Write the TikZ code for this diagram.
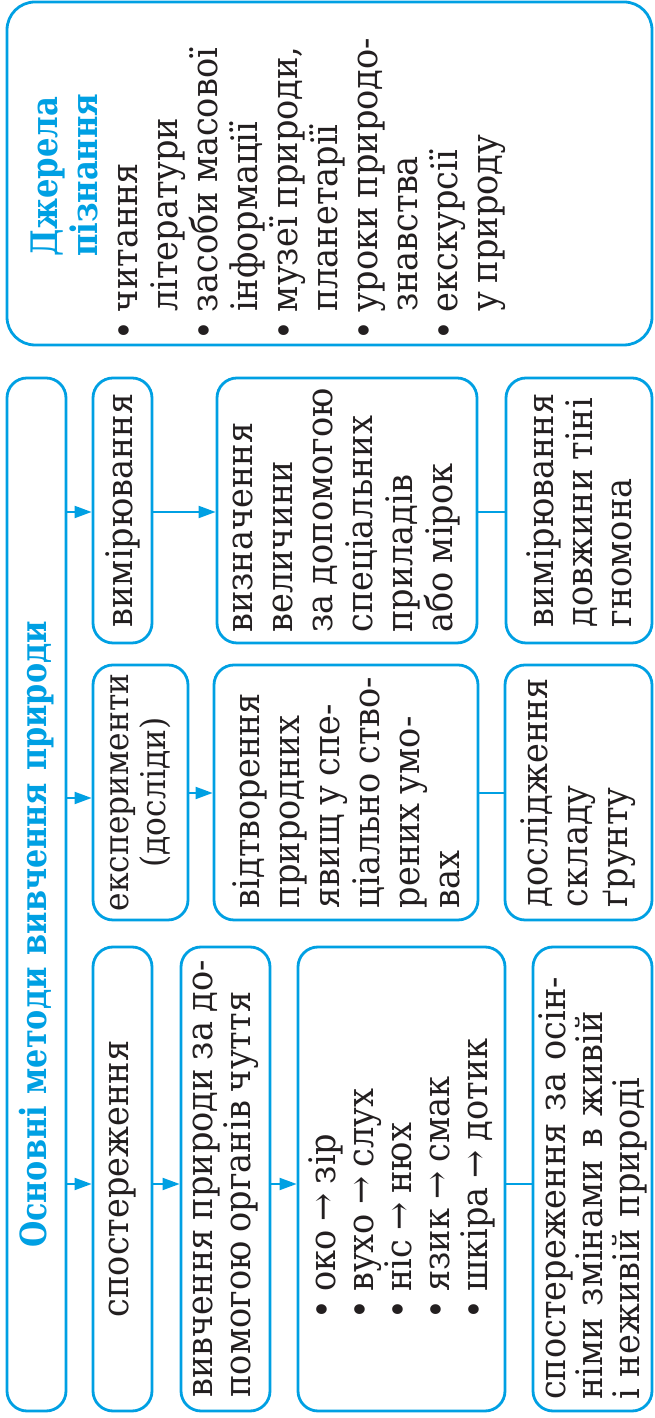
\documentclass[tikz,border=0pt]{standalone}
\usepackage{fontspec}
\setmainfont{DejaVu Serif}[FakeStretch=0.92, WordSpace=0.85]
\newfontfamily\titlefont{DejaVu Serif}[FakeStretch=0.84]
\usetikzlibrary{arrows.meta,calc}
\definecolor{cy}{RGB}{0,160,227}
\definecolor{ink}{RGB}{35,31,32}
\newcommand\bodyfont[1]{\fontsize{36.5}{#1}\selectfont}
\newcommand\srcitem[2]{\hspace*{4pt}\makebox[29pt][l]{\textbullet}#1\\\hspace*{33pt}#2}
\newcommand\senseitem[2]{\makebox[28pt][l]{\textbullet}#1 → #2}
\tikzset{
  box/.style={draw=cy, line width=2.8pt, rounded corners=20pt, rotate=90,
    inner xsep=0pt, inner ysep=0pt, text=ink, font=\bodyfont{39}},
  boxl/.style={box, align=left},
  boxc/.style={box, align=center},
  conn/.style={draw=cy, line width=2pt},
  arr/.style={conn, -{Triangle[length=17pt,width=12pt]}},
}
\begin{document}
\begin{tikzpicture}[x=1pt,y=1pt]
\useasboundingbox (0,0) rectangle (654,1418);
\fill[white] (0,0) rectangle (654,1418);

% title column
\node[boxl, minimum width=1033pt, minimum height=59pt, text width=1033pt,
      font=\titlefont\fontsize{36}{36}\selectfont\bfseries, text=cy] (title) at (36.5,523.5)
  {\hspace*{163pt}Основні методи вивчення природи};

% first level
\node[boxl, minimum width=265pt, minimum height=59pt] (vym) at (122.5,907.5) {вимірювання};
\node[boxc, minimum width=255pt, minimum height=95pt, font=\fontsize{34}{37}\selectfont] (eksp) at (140.5,625.5) {експерименти\\(досліди)};
\node[boxl, minimum width=464pt, minimum height=59pt] (spost) at (122.5,239) {спостереження};

% second level
\node[boxl, minimum width=265pt, minimum height=260pt, font=\bodyfont{40}] (vyzn) at (347,907.5)
  {визначення\\величини\\за допомогою\\спеціальних\\приладів\\або мірок};
\node[boxl, minimum width=255pt, minimum height=264pt, font=\bodyfont{40}] (vidt) at (346,625.5)
  {відтворення\\природних\\явищ у спе-\\ціально ство-\\рених умо-\\вах};
\node[boxl, minimum width=464pt, minimum height=89pt, font=\bodyfont{38}] (vyvch) at (225.5,239)
  {вивчення природи за до-\\помогою органів чуття};

% third level
\node[boxl, minimum width=265pt, minimum height=146pt] (gnom) at (579,907.5)
  {вимірювання\\довжини тіні\\гномона};
\node[boxl, minimum width=255pt, minimum height=147pt, font=\bodyfont{40}] (grunt) at (578.5,625.5)
  {дослідження\\складу\\ґрунту};
\node[boxl, minimum width=464pt, minimum height=207pt, font=\bodyfont{38}] (oko) at (401.5,239)
  {\senseitem{око}{зір}\\\senseitem{вухо}{слух}\\\senseitem{ніс}{нюх}\\\senseitem{язик}{смак}\\\senseitem{шкіра}{дотик}};
\node[boxl, minimum width=464pt, minimum height=119pt, text width=442pt, inner xsep=11pt, font=\bodyfont{37}] (osin) at (592.5,239)
  {спостереження за осін-\\німи змінами в живій\\і неживій природі};

% sources box
\node[box, rounded corners=28pt, minimum width=343pt, minimum height=645pt, font=\bodyfont{40}] (dzher) at (329.5,1244.5)
  {\parbox[c][645pt][t]{343pt}{\raggedright
   \rule{0pt}{50pt}\hspace*{88pt}{\titlefont\bfseries\color{cy}Джерела}\\
   \hspace*{88pt}{\titlefont\bfseries\color{cy}пізнання}\\
   \srcitem{читання}{літератури}\\
   \srcitem{засоби масової}{інформації}\\
   \srcitem{музеї природи,}{планетарії}\\
   \srcitem{уроки природо-}{знавства}\\
   \srcitem{екскурсії}{у природу}}};

% row guides
\coordinate (r1) at (0,906);
\coordinate (r2a) at (0,620);
\coordinate (r2b) at (0,625);
\coordinate (r3) at (0,234);

\draw[arr] (title.south |- r1) -- (vym.north |- r1);
\draw[arr] (vym.south |- r1) -- (vyzn.north |- r1);
\draw[conn] (vyzn.south |- r1) -- (gnom.north |- r1);
\draw[arr] (title.south |- r2a) -- (eksp.north |- r2a);
\draw[arr] (eksp.south |- r2b) -- (vidt.north |- r2b);
\draw[conn] (vidt.south |- r2b) -- (grunt.north |- r2b);
\draw[arr] (title.south |- r3) -- (spost.north |- r3);
\draw[arr] (spost.south |- r3) -- (vyvch.north |- r3);
\draw[arr] (vyvch.south |- r3) -- (oko.north |- r3);
\draw[conn] (oko.south |- r3) -- (osin.north |- r3);
\end{tikzpicture}
\end{document}
